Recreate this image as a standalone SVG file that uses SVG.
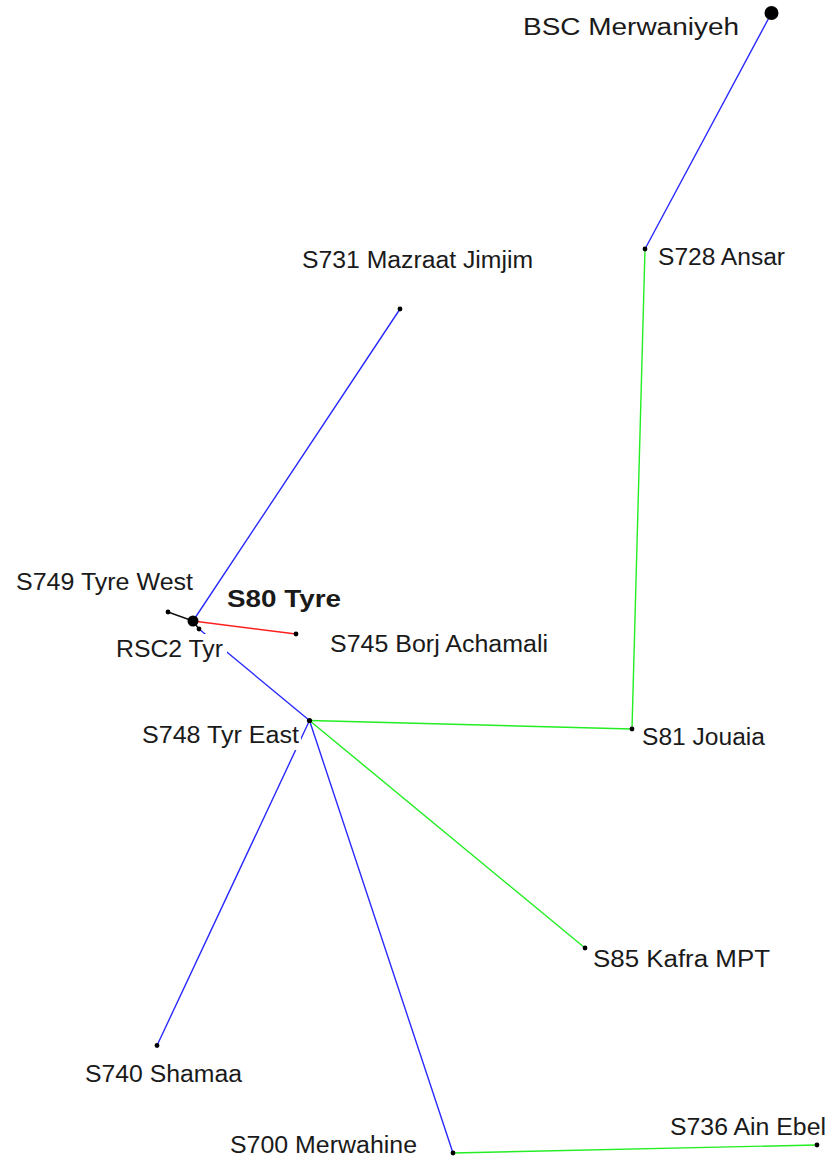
<svg xmlns="http://www.w3.org/2000/svg" width="829" height="1159" viewBox="0 0 829 1159">
  <style>
    .lbl { font-family: "Liberation Sans", Arial, sans-serif; font-size: 23px; fill: #1a1a1a; }
    .bold { font-weight: bold; }
    .bg { fill: #ffffff; }
    .dot { fill: #000000; }
    .link { fill: none; stroke-width: 1.4; stroke-linecap: round; }
    .blue { stroke: #2a2aff; }
    .green { stroke: #22ee22; }
    .red { stroke: #ff2020; }
    .black { stroke: #111111; }
  </style>
  <rect width="829" height="1159" fill="#ffffff"/>

  <!-- links between sites -->
  <g id="connectors">
    <line class="link blue" x1="771.5" y1="13" x2="645" y2="249"/>
    <line class="link green" x1="645" y1="249" x2="632" y2="729"/>
    <line class="link blue" x1="400" y1="309" x2="193" y2="621"/>
    <line class="link black" x1="193" y1="621" x2="168" y2="612"/>
    <line class="link black" x1="193" y1="621" x2="199" y2="629"/>
    <line class="link red" x1="193" y1="621" x2="296" y2="634"/>
    <line class="link blue" x1="199" y1="629" x2="309.5" y2="720.5"/>
    <line class="link green" x1="309.5" y1="720.5" x2="632" y2="729"/>
    <line class="link green" x1="309.5" y1="720.5" x2="585" y2="948"/>
    <line class="link blue" x1="309.5" y1="720.5" x2="157" y2="1045.5"/>
    <line class="link blue" x1="309.5" y1="720.5" x2="453" y2="1153"/>
    <line class="link green" x1="453" y1="1153" x2="817" y2="1145"/>
  </g>

  <g id="bsc-merwaniyeh">
    <rect class="bg" x="520" y="12" width="224" height="30"/>
    <text class="lbl" x="523" y="35" font-size="25.5" textLength="216" lengthAdjust="spacingAndGlyphs">BSC Merwaniyeh</text>
    <circle class="dot" cx="771.5" cy="13" r="7"/>
  </g>

  <g id="s728-ansar">
    <rect class="bg" x="655" y="242" width="134" height="30"/>
    <text class="lbl" x="658" y="265" textLength="127" lengthAdjust="spacingAndGlyphs">S728 Ansar</text>
    <circle class="dot" cx="645" cy="249" r="2.4"/>
  </g>

  <g id="s731-mazraat-jimjim">
    <rect class="bg" x="299" y="245" width="238" height="30"/>
    <text class="lbl" x="302" y="268" textLength="231" lengthAdjust="spacingAndGlyphs">S731 Mazraat Jimjim</text>
    <circle class="dot" cx="400" cy="309" r="2.4"/>
  </g>

  <g id="s749-tyre-west">
    <rect class="bg" x="13" y="567" width="184" height="30"/>
    <text class="lbl" x="16" y="590" textLength="177" lengthAdjust="spacingAndGlyphs">S749 Tyre West</text>
    <circle class="dot" cx="168" cy="612" r="2.4"/>
  </g>

  <g id="s80-tyre">
    <rect class="bg" x="224" y="584" width="121" height="30"/>
    <text class="lbl bold" x="227" y="607" textLength="114" lengthAdjust="spacingAndGlyphs">S80 Tyre</text>
    <circle class="dot" cx="193" cy="621" r="5.5"/>
  </g>

  <g id="rsc2-tyr">
    <rect class="bg" x="113" y="634" width="114" height="30"/>
    <text class="lbl" x="116" y="657" textLength="107" lengthAdjust="spacingAndGlyphs">RSC2 Tyr</text>
    <circle class="dot" cx="199" cy="629" r="2.4"/>
  </g>

  <g id="s745-borj-achamali">
    <rect class="bg" x="327" y="629" width="225" height="30"/>
    <text class="lbl" x="330" y="652" textLength="218" lengthAdjust="spacingAndGlyphs">S745 Borj Achamali</text>
    <circle class="dot" cx="296" cy="634" r="2.4"/>
  </g>

  <g id="s748-tyr-east">
    <rect class="bg" x="139" y="720" width="162" height="30"/>
    <text class="lbl" x="142" y="743" textLength="157" lengthAdjust="spacingAndGlyphs">S748 Tyr East</text>
    <circle class="dot" cx="309.5" cy="720.5" r="2.6"/>
  </g>

  <g id="s81-jouaia">
    <rect class="bg" x="639" y="722" width="130" height="30"/>
    <text class="lbl" x="642" y="745" textLength="123" lengthAdjust="spacingAndGlyphs">S81 Jouaia</text>
    <circle class="dot" cx="632" cy="729" r="2.4"/>
  </g>

  <g id="s85-kafra-mpt">
    <rect class="bg" x="590" y="944" width="183" height="30"/>
    <text class="lbl" x="593" y="967" textLength="177" lengthAdjust="spacingAndGlyphs">S85 Kafra MPT</text>
    <circle class="dot" cx="585" cy="948" r="2.4"/>
  </g>

  <g id="s740-shamaa">
    <rect class="bg" x="82" y="1059" width="164" height="30"/>
    <text class="lbl" x="85" y="1082" textLength="157" lengthAdjust="spacingAndGlyphs">S740 Shamaa</text>
    <circle class="dot" cx="157" cy="1045.5" r="2.4"/>
  </g>

  <g id="s700-merwahine">
    <rect class="bg" x="227" y="1130" width="193" height="29"/>
    <text class="lbl" x="230" y="1153" textLength="187" lengthAdjust="spacingAndGlyphs">S700 Merwahine</text>
    <circle class="dot" cx="453" cy="1153" r="2.4"/>
  </g>

  <g id="s736-ain-ebel">
    <rect class="bg" x="667" y="1112" width="160" height="28"/>
    <text class="lbl" x="670" y="1135" textLength="156" lengthAdjust="spacingAndGlyphs">S736 Ain Ebel</text>
    <circle class="dot" cx="817" cy="1145" r="2.4"/>
  </g>
</svg>
